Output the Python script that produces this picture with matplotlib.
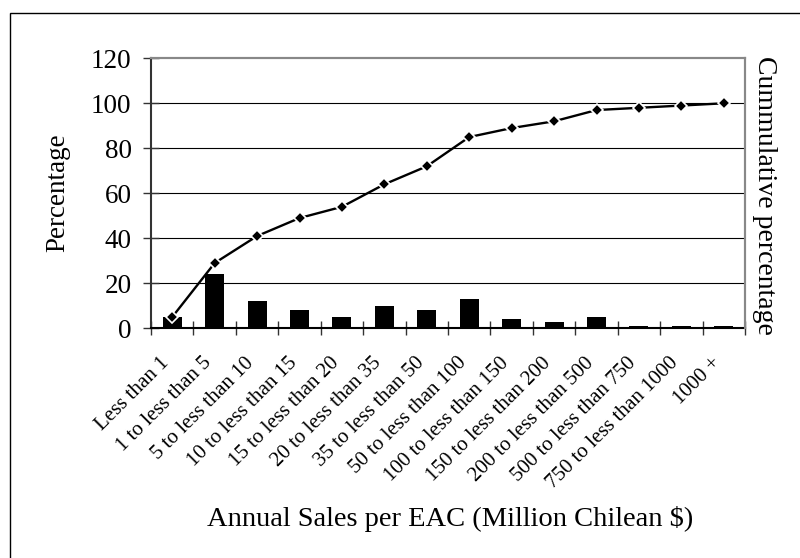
import matplotlib
matplotlib.use("Agg")
import matplotlib.pyplot as plt
from matplotlib.patches import Rectangle
import numpy as np

categories = [
    "Less than 1", "1 to less than 5", "5 to less than 10", "10 to less than 15",
    "15 to less than 20", "20 to less than 35", "35 to less than 50",
    "50 to less than 100", "100 to less than 150", "150 to less than 200",
    "200 to less than 500", "500 to less than 750", "750 to less than 1000",
    "1000 +",
]
percentage = [5, 24, 12, 8, 5, 10, 8, 13, 4, 3, 5, 1, 1, 1]
cumulative = [5, 29, 41, 49, 54, 64, 72, 85, 89, 92, 97, 98, 99, 100]
y_ticks = [0, 20, 40, 60, 80, 100, 120]

plt.rcParams["font.family"] = ["Liberation Serif", "DejaVu Serif"]

W, H = 800, 558
fig = plt.figure(figsize=(W / 100, H / 100), dpi=100)

# outer frame of the chart
fig.patches.append(Rectangle((10 / W, -0.1), 1.2, 1 - 13 / H + 0.1,
                             transform=fig.transFigure, fill=False,
                             edgecolor="black", linewidth=1.0))

L, R, T, B = 151, 745, 58.3, 328.3
ax = fig.add_axes([L / W, 1 - B / H, (R - L) / W, (B - T) / H])
ax2 = ax.twinx()

x = np.arange(len(categories))
ax.bar(x, percentage, width=0.45, color="black", zorder=2)

ax.set_xlim(-0.5, len(categories) - 0.5)
ax.set_ylim(0, 120)
ax2.set_ylim(0, 120)
ax.set_yticks(y_ticks)
ax.set_yticklabels([str(v) for v in y_ticks], fontsize=19.5)
ax.tick_params(axis="y", direction="inout", length=12, width=1.0,
               color="#333333", pad=8)

# horizontal gridlines
for v in y_ticks[1:-1]:
    ax.axhline(v, color="black", linewidth=0.8, zorder=1)

ax.set_xticks(np.arange(-0.5, len(categories), 1.0))
ax.set_xticklabels([])
ax.tick_params(axis="x", direction="inout", length=9.5, width=1.0,
               color="#333333")
for i, lab in enumerate(categories):
    ax.annotate(lab, xy=(i, 0), xycoords=("data", "axes fraction"),
                xytext=(-4, -23), textcoords="offset points",
                rotation=45, rotation_mode="anchor",
                ha="right", va="center", fontsize=15)

ax.spines["left"].set_color("#333333")
ax.spines["left"].set_linewidth(1.5)
ax.spines["bottom"].set_color("black")
ax.spines["bottom"].set_linewidth(1.5)
for a in (ax, ax2):
    a.spines["top"].set_color("#888888")
    a.spines["top"].set_linewidth(1.5)
    a.spines["right"].set_color("#888888")
    a.spines["right"].set_linewidth(1.5)
ax2.spines["left"].set_visible(False)
ax2.spines["bottom"].set_visible(False)
ax2.set_yticks([])

ax2.plot(x, cumulative, color="black", linewidth=1.7, marker="D",
         markersize=6.5, markerfacecolor="black", markeredgecolor="white",
         markeredgewidth=1.2, zorder=3)

fig.text(57.5 / W, 1 - 193 / H, "Percentage", rotation=90,
         ha="center", va="center", fontsize=19.5)
fig.text(764.5 / W, 1 - 195 / H, "Cummulative percentage", rotation=-90,
         ha="center", va="center", fontsize=20)
fig.text(450 / W, 1 - 519 / H, "Annual Sales per EAC (Million Chilean $)",
         ha="center", va="center", fontsize=20.5)

fig.savefig("out.png", dpi=100)
